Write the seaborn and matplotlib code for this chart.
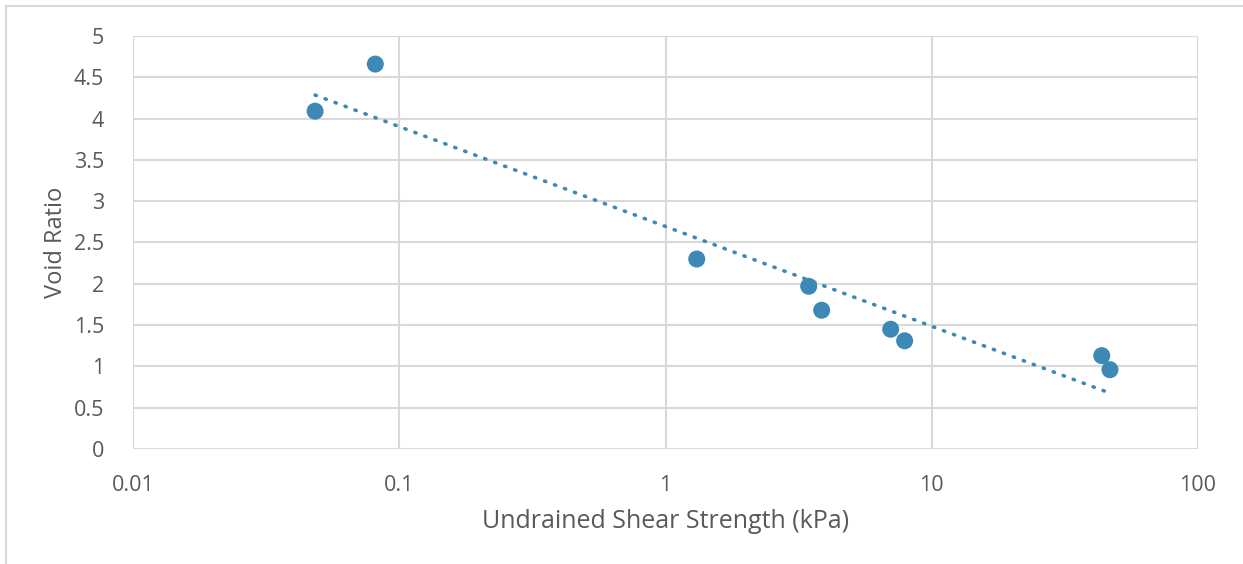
import numpy as np
import pandas as pd
import matplotlib
matplotlib.use("Agg")
import matplotlib.pyplot as plt
import seaborn as sns
from matplotlib.ticker import FixedLocator, NullLocator

# Measured samples
shear_strength_kpa = [0.0483, 0.0813, 1.31, 3.45, 3.86, 7.01, 7.91, 43.5, 46.7]
void_ratio = [4.09, 4.66, 2.30, 1.97, 1.68, 1.45, 1.31, 1.13, 0.96]

x_ticks = [0.01, 0.1, 1, 10, 100]
x_tick_labels = ["0.01", "0.1", "1", "10", "100"]
y_ticks = [0, 0.5, 1, 1.5, 2, 2.5, 3, 3.5, 4, 4.5, 5]
y_tick_labels = ["0", "0.5", "1", "1.5", "2", "2.5", "3", "3.5", "4", "4.5", "5"]

df = pd.DataFrame({"su": shear_strength_kpa, "e": void_ratio})

sns.set_theme(style="white")
plt.rcParams["font.family"] = ["Open Sans", "DejaVu Sans"]

text_color = "#595959"
grid_color = "#D9D9D9"
point_color = "#3E88B5"

fig = plt.figure(figsize=(12.43, 5.64), dpi=100)
ax = fig.add_axes([133 / 1243, 1 - 449 / 564, (1198 - 133) / 1243, (449 - 36) / 564])

ax.set_xscale("log")
ax.set_xlim(0.01, 100)
ax.set_ylim(0, 5)

# Logarithmic trendline fitted to the samples
b, a = np.polyfit(np.log(df["su"]), df["e"], 1)
xs = np.logspace(np.log10(df["su"].min()), np.log10(df["su"].max()), 200)
ax.plot(xs, a + b * np.log(xs), color=point_color, lw=2.6,
        linestyle=(0, (0.35, 2.6)), dash_capstyle="round", zorder=2)

sns.scatterplot(data=df, x="su", y="e", ax=ax, color=point_color, s=150,
                edgecolor="none", zorder=3)

ax.xaxis.set_major_locator(FixedLocator(x_ticks))
ax.xaxis.set_minor_locator(NullLocator())
ax.set_xticklabels(x_tick_labels)
ax.set_yticks(y_ticks)
ax.set_yticklabels(y_tick_labels)

ax.grid(True, which="major", color=grid_color, lw=1.5)
ax.set_axisbelow(True)
for sp in ax.spines.values():
    sp.set_visible(False)

ax.tick_params(axis="both", length=0, labelsize=15.5, colors=text_color)
ax.tick_params(axis="y", pad=21)
ax.tick_params(axis="x", pad=19)

ax.set_xlabel("Undrained Shear Strength (kPa)", fontsize=18, color=text_color)
ax.set_ylabel("Void Ratio", fontsize=17, color=text_color)
ax.xaxis.set_label_coords(0.5, -0.145)
ax.yaxis.set_label_coords(-0.061, 0.5)

# Outer chart frame (left and top edges)
fig.add_artist(plt.Line2D([6 / 1243, 6 / 1243], [0, 1 - 6 / 564], color=grid_color, lw=1.5,
                          transform=fig.transFigure))
fig.add_artist(plt.Line2D([6 / 1243, 1], [1 - 6 / 564, 1 - 6 / 564], color=grid_color, lw=1.5,
                          transform=fig.transFigure))

fig.savefig("out.png", dpi=100, facecolor="white")
